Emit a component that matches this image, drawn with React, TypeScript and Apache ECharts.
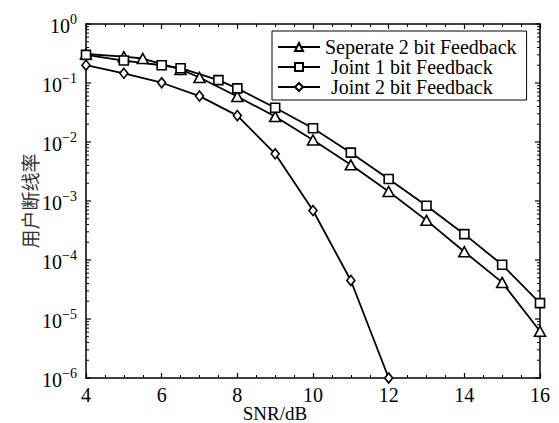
import React, { useEffect, useRef } from "react";
import * as echarts from "echarts";

// SNR (dB) positions and outage probabilities
const sepSNR = [4, 5, 5.5, 6.5, 7, 8, 9, 10, 11, 12, 13, 14, 15, 16];
const sepOutage = [0.31, 0.28, 0.26, 0.17, 0.124, 0.059, 0.027, 0.0108, 0.0041, 0.00145, 0.00047, 0.000138, 0.0000417, 0.0000062];

const joint1SNR = [4, 5, 6, 6.5, 7.5, 8, 9, 10, 11, 12, 13, 14, 15, 16];
const joint1Outage = [0.3, 0.24, 0.2, 0.178, 0.112, 0.081, 0.038, 0.0171, 0.0066, 0.00236, 0.00083, 0.000274, 0.000083, 0.0000186];

const joint2SNR = [4, 5, 6, 7, 8, 9, 10, 11, 12];
const joint2Outage = [0.2, 0.146, 0.101, 0.06, 0.028, 0.0063, 0.00069, 0.000045, 0.000001];

const seriesNames = ["Seperate 2 bit Feedback", "Joint 1 bit Feedback", "Joint 2 bit Feedback"];

const yDecades = [-6, -5, -4, -3, -2, -1, 0];
const yMinorMantissas = [2, 3, 4, 5, 6, 7, 8, 9];

const FONT = "Liberation Serif";

function zip(xs: number[], ys: number[]) {
  return xs.map((x, i) => [x, ys[i]]);
}

export default function App() {
  const ref = useRef<HTMLDivElement>(null);

  useEffect(() => {
    if (!ref.current) return;
    const chart = echarts.init(ref.current, null, { renderer: "svg" });

    const tickData: number[][] = [];
    yDecades.forEach((d) => {
      tickData.push([4, Math.pow(10, d), 5]);
      if (d < 0) yMinorMantissas.forEach((m) => tickData.push([4, m * Math.pow(10, d), 3]));
    });

    const markerStyle = { color: "#fff", borderColor: "#000", borderWidth: 1.6 };
    const lineBase = {
      type: "line" as const,
      xAxisIndex: 0,
      yAxisIndex: 0,
      lineStyle: { color: "#000", width: 1.8 },
      itemStyle: markerStyle,
      z: 3,
    };

    chart.setOption({
      animation: false,
      backgroundColor: "#fff",
      textStyle: { fontFamily: FONT, color: "#000" },
      grid: { left: 86, right: 19, top: 24, bottom: 45, containLabel: false, outerBoundsMode: "none" },
      legend: {
        data: seriesNames,
        orient: "vertical",
        left: 272,
        top: 31,
        padding: [6, 10, 3, 5],
        itemGap: 0,
        itemWidth: 42,
        itemHeight: 10,
        borderColor: "#000",
        borderWidth: 1,
        backgroundColor: "#fff",
        textStyle: {
          fontFamily: FONT,
          fontSize: 20,
          lineHeight: 19,
          color: "#000",
          rich: { j: { fontFamily: FONT, fontSize: 20, lineHeight: 19, color: "#000", padding: [0, 0, 0, 6] } },
        },
        formatter: (name: string) => (name.startsWith("Joint") ? `{j|${name}}` : name),
      },
      xAxis: [
        {
          type: "value",
          min: 4,
          max: 16,
          interval: 2,
          position: "bottom",
          name: "SNR/dB",
          nameLocation: "middle",
          nameGap: 26,
          nameMoveOverlap: false,
          nameTextStyle: { fontFamily: FONT, fontSize: 19, lineHeight: 19, color: "#000", padding: [0, 76, 0, 0] },
          axisLine: { show: true, onZero: false, lineStyle: { color: "#000", width: 1.5 } },
          axisTick: { show: true, inside: true, length: 5, lineStyle: { color: "#000", width: 1.2 } },
          minorTick: { show: true, splitNumber: 4, length: 3, lineStyle: { color: "#000", width: 1 } },
          axisLabel: { fontFamily: FONT, fontSize: 20, color: "#000", margin: 7 },
          splitLine: { show: false },
        },
        {
          type: "value",
          min: 4,
          max: 16,
          interval: 2,
          position: "top",
          axisLine: { show: true, onZero: false, lineStyle: { color: "#000", width: 1.5 } },
          axisTick: { show: true, inside: true, length: 5, lineStyle: { color: "#000", width: 1.2 } },
          minorTick: { show: true, splitNumber: 4, length: 3, lineStyle: { color: "#000", width: 1 } },
          axisLabel: { show: false },
          splitLine: { show: false },
        },
      ],
      yAxis: [
        {
          type: "log",
          logBase: 10,
          min: 1e-6,
          max: 1,
          position: "left",
          name: "用户断线率",
          nameLocation: "middle",
          nameGap: 47,
          nameMoveOverlap: false,
          nameRotate: 90,
          nameTextStyle: { fontFamily: "Noto Sans CJK SC", fontSize: 19, color: "#333" },
          axisLine: { show: true, onZero: false, lineStyle: { color: "#000", width: 1.5 } },
          axisTick: { show: false },
          axisLabel: {
            fontFamily: FONT,
            color: "#000",
            margin: 9,
            formatter: (v: number) => {
              const e = Math.round(Math.log10(v));
              return `{b|10}{s|${e === 0 ? "0" : "\u2212" + -e}}`;
            },
            rich: {
              b: { fontFamily: FONT, fontSize: 20, color: "#000", lineHeight: 24, verticalAlign: "bottom" },
              s: { fontFamily: FONT, fontSize: 14, color: "#000", lineHeight: 24, verticalAlign: "top" },
            },
          },
          splitLine: { show: false },
        },
        {
          type: "log",
          logBase: 10,
          min: 1e-6,
          max: 1,
          position: "right",
          axisLine: { show: true, onZero: false, lineStyle: { color: "#000", width: 1.5 } },
          axisTick: { show: false },
          axisLabel: { show: false },
          splitLine: { show: false },
        },
      ],
      series: [
        {
          type: "custom",
          name: "yticks",
          xAxisIndex: 0,
          yAxisIndex: 0,
          silent: true,
          z: 1,
          encode: { x: 0, y: 1 },
          data: tickData,
          renderItem: (params: any, api: any) => {
            const v = api.value(1);
            const len = api.value(2);
            const p = api.coord([4, v]);
            const q = api.coord([16, v]);
            const st = { stroke: "#000", lineWidth: len > 4 ? 1.2 : 1 };
            return {
              type: "group",
              children: [
                { type: "line", shape: { x1: p[0], y1: p[1], x2: p[0] + len, y2: p[1] }, style: st },
                { type: "line", shape: { x1: q[0], y1: q[1], x2: q[0] - len, y2: q[1] }, style: st },
              ],
            };
          },
        },
        { ...lineBase, name: seriesNames[0], symbol: "triangle", symbolSize: [11, 10], data: zip(sepSNR, sepOutage) },
        { ...lineBase, name: seriesNames[1], symbol: "rect", symbolSize: 9, data: zip(joint1SNR, joint1Outage) },
        { ...lineBase, name: seriesNames[2], symbol: "diamond", symbolSize: [8, 10], data: zip(joint2SNR, joint2Outage) },
      ],
    });

    return () => chart.dispose();
  }, []);

  return (
    <div
      ref={ref}
      style={{ position: "fixed", left: 0, top: 0, width: 559, height: 423, background: "#fff" }}
    />
  );
}
